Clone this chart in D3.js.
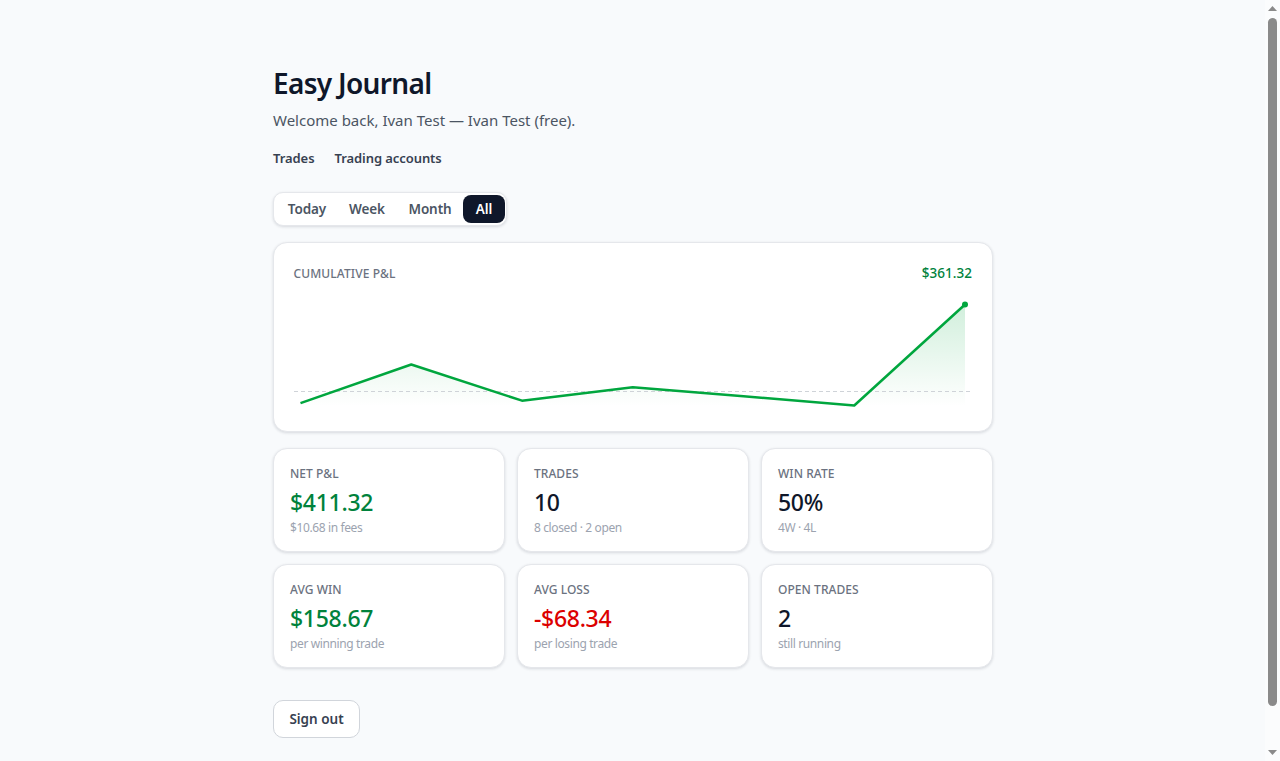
<!DOCTYPE html>
<html>
<head>
<meta charset="utf-8">
<title>Easy Journal</title>
<script src="https://cdnjs.cloudflare.com/ajax/libs/d3/7.8.5/d3.min.js"></script>
<style>
html, body { margin: 0; padding: 0; height: 761px; overflow: hidden; background: #f8fafc; }
body { font-family: "Noto Sans", sans-serif; color: #0f172a; }
.wrap { position: absolute; left: 273px; top: 0; width: 720px; }
h1 { position: absolute; left: 0; top: 63px; margin: 0; font-size: 28px; line-height: 40px; font-weight: 600; letter-spacing: -0.68px; white-space: nowrap; }
.sub { position: absolute; left: 0; top: 110px; font-size: 15px; line-height: 21px; color: #4b5563; white-space: nowrap; }
.nav { position: absolute; left: 0; top: 149px; font-size: 13px; line-height: 18px; font-weight: 600; letter-spacing: -0.07px; color: #374151; white-space: nowrap; }
.nav span { margin-right: 20px; }
.seg { position: absolute; left: 0; top: 192px; width: 232px; height: 32px; background: #fff; border: 1px solid #e5e7eb; border-radius: 10px; box-shadow: 0 1px 3px rgba(15,23,42,.14); }
.seg div { position: absolute; top: 2px; height: 28px; line-height: 28px; text-align: center; font-size: 13.5px; font-weight: 600; letter-spacing: -0.1px; color: #4b5563; border-radius: 8px; }
.seg div.on { background: #0f172a; color: #fff; }
.card { position: absolute; box-sizing: border-box; background: #fff; border: 1px solid #e5e7eb; border-radius: 14px; box-shadow: 0 1px 3px rgba(15,23,42,.14); }
.stat { width: 232px; height: 104px; }
.lab { position: absolute; left: 16px; top: 16px; font-size: 12px; line-height: 17px; font-weight: 500; letter-spacing: 0.05px; color: #6b7280; white-space: nowrap; }
.val { position: absolute; left: 16px; top: 37px; font-size: 23px; line-height: 32px; font-weight: 500; letter-spacing: -0.3px; white-space: nowrap; }
.note { position: absolute; left: 16px; top: 70px; font-size: 12px; line-height: 17px; letter-spacing: -0.38px; color: #9ca3af; white-space: nowrap; }
.btn { position: absolute; left: 0; top: 700px; box-sizing: border-box; width: 87px; height: 38px; line-height: 36px; text-align: center; background: #fff; border: 1px solid #d1d5db; border-radius: 10px; font-size: 13.5px; font-weight: 600; color: #374151; }
svg { position: absolute; left: 0; top: 0; overflow: visible; }
</style>
</head>
<body>
<div class="wrap" id="app"></div>
<svg id="scroll" width="1280" height="761"></svg>
<script>
let title = 'Easy Journal'
let welcome = 'Welcome back, Ivan Test \u2014 Ivan Test (free).'
let navItems = ['Trades', 'Trading accounts']
let ranges = ['Today', 'Week', 'Month', 'All']
let activeRange = 'All'

let pnlSteps = [0, 1, 2, 3, 4, 5, 6]
let pnlValues = [-48, 112, -38, 18, -20, -58, 361.32]
let pnlLabel = '$361.32'

let statLabels = ['NET P&L', 'TRADES', 'WIN RATE', 'AVG WIN', 'AVG LOSS', 'OPEN TRADES']
let statValues = ['$411.32', '10', '50%', '$158.67', '-$68.34', '2']
let statNotes = ['$10.68 in fees', '8 closed \u00b7 2 open', '4W \u00b7 4L', 'per winning trade', 'per losing trade', 'still running']
let statTones = ['pos', 'flat', 'flat', 'pos', 'neg', 'flat']

let toneColor = { pos: '#00823c', neg: '#dc0000', flat: '#0f172a' }
let lineGreen = '#00a63e'

let app = d3.select('#app')
app.append('h1').text(title)
app.append('div').attr('class', 'sub').text(welcome)
app.append('div').attr('class', 'nav').selectAll('span').data(navItems).enter().append('span').text(d => d)

let segLeft = [1, 63, 122, 189]
let segWidth = [64, 60, 68, 42]
let seg = app.append('div').attr('class', 'seg')
seg.selectAll('div').data(ranges).enter().append('div')
    .attr('class', d => d === activeRange ? 'on' : null)
    .style('left', (d, i) => segLeft[i] + 'px')
    .style('width', (d, i) => segWidth[i] + 'px')
    .text(d => d)

// chart card
let chartCard = app.append('div').attr('class', 'card')
    .style('left', '0px').style('top', '242px').style('width', '720px').style('height', '190px')
chartCard.append('div').attr('class', 'lab').style('left', '19.5px').style('top', '22px').style('letter-spacing', '0.12px').text('CUMULATIVE P&L')
chartCard.append('div').attr('class', 'lab')
    .style('left', 'auto').style('right', '20px').style('top', '21.5px')
    .style('font-size', '13.5px').style('font-weight', '500').style('color', toneColor.pos)
    .text(pnlLabel)

let svg = chartCard.append('svg').attr('width', 720).attr('height', 190)
let x = d3.scaleLinear().domain([0, 6]).range([26.5, 691])
let y = d3.scaleLinear().domain([0, 361.32]).range([148.5, 61.5])
let bottom = 163.5

let defs = svg.append('defs')
let grad = defs.append('linearGradient').attr('id', 'fade').attr('x1', 0).attr('x2', 0).attr('y1', 0).attr('y2', 1)
grad.append('stop').attr('offset', '0%').attr('stop-color', lineGreen).attr('stop-opacity', 0.18)
grad.append('stop').attr('offset', '100%').attr('stop-color', lineGreen).attr('stop-opacity', 0)

svg.append('path').datum(pnlSteps)
    .attr('fill', 'url(#fade)')
    .attr('d', d3.area().x(d => x(d)).y0(bottom).y1(d => y(pnlValues[d])))
svg.append('line')
    .attr('x1', 20).attr('x2', 696).attr('y1', y(0)).attr('y2', y(0))
    .attr('stroke', '#cfd3d8').attr('stroke-width', 1).attr('stroke-dasharray', '4 3')
svg.append('path').datum(pnlSteps)
    .attr('fill', 'none').attr('stroke', lineGreen).attr('stroke-width', 2.5).attr('stroke-linejoin', 'round')
    .attr('d', d3.line().x(d => x(d)).y(d => y(pnlValues[d])))
svg.append('circle')
    .attr('cx', x(6)).attr('cy', y(pnlValues[6])).attr('r', 3).attr('fill', lineGreen)

// stat cards
let cards = app.selectAll('.stat').data(statLabels).enter().append('div')
    .attr('class', 'card stat')
    .style('left', (d, i) => (i % 3) * 244 + 'px')
    .style('top', (d, i) => 448 + Math.floor(i / 3) * 116 + 'px')
cards.append('div').attr('class', 'lab').text(d => d)
cards.append('div').attr('class', 'val')
    .style('color', (d, i) => toneColor[statTones[i]])
    .text((d, i) => statValues[i])
cards.append('div').attr('class', 'note').text((d, i) => statNotes[i])

app.append('div').attr('class', 'btn').text('Sign out')

// window scrollbar
let bar = d3.select('#scroll')
bar.append('rect').attr('x', 1265).attr('y', 0).attr('width', 15).attr('height', 761).attr('fill', '#fbfcfd')
bar.append('rect').attr('x', 1268).attr('y', 18).attr('width', 9).attr('height', 688).attr('rx', 4.5).attr('fill', '#8a8a8a')
bar.append('path').attr('d', 'M1268 11L1272.5 6L1277 11Z').attr('fill', '#8a8a8a')
bar.append('path').attr('d', 'M1268 750L1272.5 755L1277 750Z').attr('fill', '#8a8a8a')
</script>
</body>
</html>
